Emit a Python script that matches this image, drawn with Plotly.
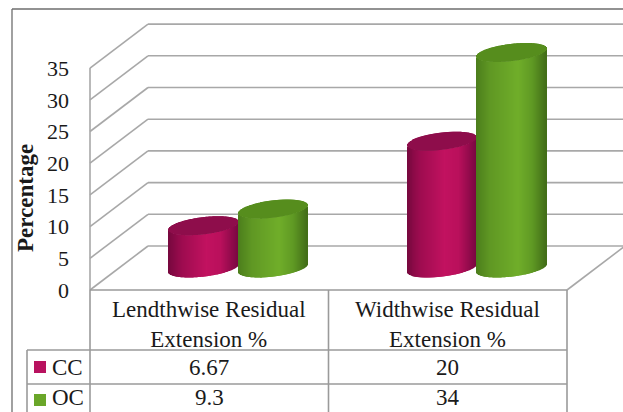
import numpy as np
import plotly.graph_objects as go

# Chart values
categories = ["Lendthwise Residual<br>Extension %", "Widthwise Residual<br>Extension %"]
series_names = ["CC", "OC"]
cc_values = [6.67, 20]
oc_values = [9.3, 34]
value_labels = {"CC": ["6.67", "20"], "OC": ["9.3", "34"]}
tick_values = [0, 5, 10, 15, 20, 25, 30, 35]

# Canvas and oblique projection
W, H = 623, 412
FLOOR_PX = 290          # pixel row of value 0 on the front edge
PX_PER_VALUE = 6.34
PX_PER_CAT = 238.5
FRONT_PX = 90           # pixel column of the value axis
DEPTH_X = 58 / PX_PER_CAT            # wall offset, category units
DEPTH_Y = 44 / PX_PER_VALUE          # wall offset, value units

x_range = [-FRONT_PX / PX_PER_CAT, (W - FRONT_PX) / PX_PER_CAT]
y_range = [-(H - FLOOR_PX) / PX_PER_VALUE, FLOOR_PX / PX_PER_VALUE]


def row(py):
    """Value-axis coordinate of a pixel row."""
    return (FLOOR_PX - py) / PX_PER_VALUE


def col(px):
    """Category-axis coordinate of a pixel column."""
    return (px - FRONT_PX) / PX_PER_CAT


GRID = "#a8a8a8"
FRAME = "#6e6e6e"
TABLE = "#9a9a9a"
SERIF = "Liberation Serif"


def mix(stops, t):
    """Interpolate a colour from (position, rgb) stops."""
    pos = [s[0] for s in stops]
    return "rgb(%d,%d,%d)" % tuple(
        int(np.interp(t, pos, [s[1][i] for s in stops])) for i in range(3)
    )


CC_SHADE = [(-1, (118, 8, 62)), (-0.6, (158, 12, 80)), (0.1, (194, 18, 96)),
            (0.5, (186, 16, 92)), (1, (122, 8, 66))]
OC_SHADE = [(-1, (76, 126, 28)), (-0.6, (96, 152, 36)), (0.2, (112, 174, 42)),
            (0.6, (96, 154, 36)), (1, (66, 110, 24))]
CC_CAP = "#8e0d4b"
OC_CAP = "#568d1d"

HALF_W = 34.8 / PX_PER_CAT
CAP_B = 8.6 / PX_PER_VALUE           # half height of the elliptical ends
CAP_TILT = 4.0 / PX_PER_VALUE        # the ends lean up towards the right
STRIPS = 70

fig = go.Figure()


def add_cylinder(center, value, shade, cap):
    u = np.linspace(-1, 1, STRIPS + 1)
    u = (u[:-1] + u[1:]) / 2
    xs = center + DEPTH_X / 2 + u * HALF_W
    strip = 2 * HALF_W / STRIPS * 1.25
    lift = DEPTH_Y / 2
    bulge = CAP_B * np.sqrt(1 - u ** 2)
    lean = CAP_TILT * u
    # Wall of the cylinder, front arc at the floor to front arc of the top
    fig.add_trace(go.Bar(
        x=xs, width=strip,
        base=lift + lean - bulge,
        y=np.full_like(u, value),
        marker=dict(color=[mix(shade, t) for t in u], line_width=0),
        showlegend=False, hoverinfo="skip",
    ))
    # Top face
    fig.add_trace(go.Bar(
        x=xs, width=strip,
        base=value + lift + lean - bulge,
        y=2 * bulge,
        marker=dict(color=cap, line_width=0),
        showlegend=False, hoverinfo="skip",
    ))


for i in range(len(categories)):
    add_cylinder(i + 0.5 - HALF_W, cc_values[i], CC_SHADE, CC_CAP)
    add_cylinder(i + 0.5 + HALF_W, oc_values[i], OC_SHADE, OC_CAP)

shapes = []


def seg(x0, y0, x1, y1, color=GRID, width=1.6):
    shapes.append(dict(type="line", layer="below", xref="x", yref="y",
                       x0=x0, y0=y0, x1=x1, y1=y1,
                       line=dict(color=color, width=width)))


# Wall gridlines with their slanted returns to the value axis
for v in tick_values:
    seg(0, v, DEPTH_X, v + DEPTH_Y)
    seg(DEPTH_X, v + DEPTH_Y, x_range[1], v + DEPTH_Y)
seg(0, 0, 0, tick_values[-1])
seg(2, 0, 2 + DEPTH_X, DEPTH_Y)

# Data table lines
bottom = y_range[0]
row_a, row_b = row(350), row(384)
seg(0, 0, 2, 0, TABLE)
seg(col(27), row_a, 2, row_a, TABLE)
seg(col(27), row_b, 2, row_b, TABLE)
seg(0, 0, 0, bottom, TABLE)
seg(1, 0, 1, bottom, TABLE)
seg(2, 0, 2, bottom, TABLE)
seg(col(27), row_a, col(27), bottom, TABLE)

# Outer frame, open on the right and at the bottom
seg(col(12), row(9), x_range[1], row(9), FRAME, 1.3)
seg(col(12), row(9), col(12), bottom, FRAME, 1.3)

# Legend keys in the data table
row_centers = {"CC": row(367), "OC": row(397)}
key_rows = {"CC": row(367), "OC": row(400)}
key_colors = {"CC": "#b8125f", "OC": "#6aa629"}
for name in series_names:
    fig.add_trace(go.Scatter(
        x=[col(40)], y=[key_rows[name]], mode="markers",
        marker=dict(symbol="square", size=12, color=key_colors[name]),
        showlegend=False, hoverinfo="skip",
    ))

annotations = []


def label(x, y, text, size=23, **kw):
    annotations.append(dict(x=x, y=y, xref="x", yref="y", text=text, showarrow=False,
                            font=dict(family=SERIF, size=size, color="#1a1a1a"), **kw))


for i, cat in enumerate(categories):
    label(i + 0.5, row(324.5), cat, size=23)
    for name in series_names:
        label(i + 0.5, row_centers[name], value_labels[name][i])
for name in series_names:
    label(col(50), row_centers[name], name, xanchor="left")
annotations.append(dict(
    x=col(25), y=row(198), xref="x", yref="y", text="<b>Percentage</b>", textangle=-90,
    showarrow=False, font=dict(family=SERIF, size=23, color="#1a1a1a"),
))

fig.update_layout(
    width=W, height=H, margin=dict(l=0, r=0, t=0, b=0),
    paper_bgcolor="white", plot_bgcolor="white",
    barmode="overlay", showlegend=False,
    shapes=shapes, annotations=annotations,
    xaxis=dict(range=x_range, visible=False, fixedrange=True),
    yaxis=dict(
        range=y_range, anchor="free", position=FRONT_PX / W,
        tickmode="array", tickvals=tick_values,
        ticks="", showgrid=False, zeroline=False, showline=False,
        ticklabelstandoff=21,
        tickfont=dict(family=SERIF, size=22, color="#1a1a1a"),
        fixedrange=True,
    ),
)

fig.write_html("out.html")
